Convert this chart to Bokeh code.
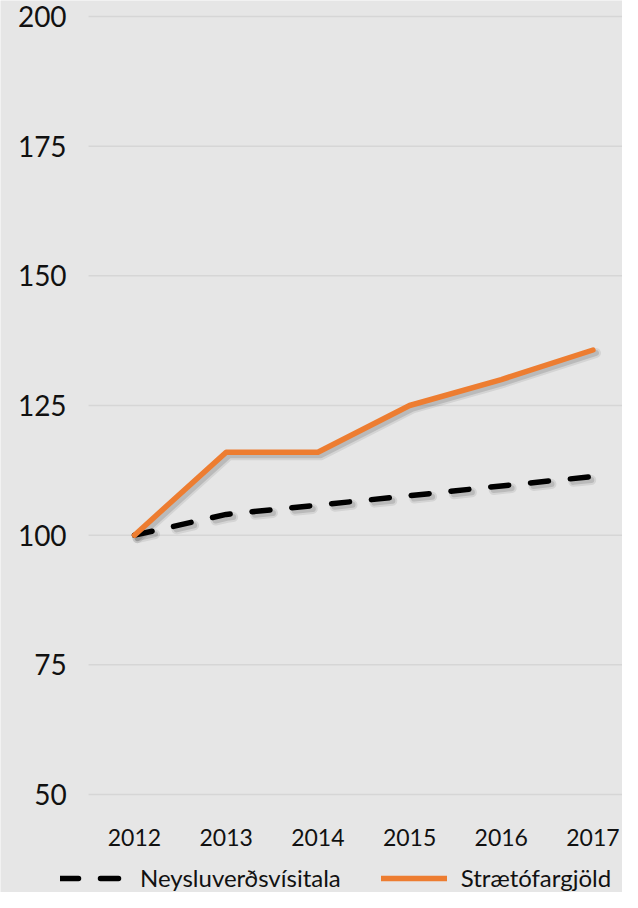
from bokeh.plotting import figure
from bokeh.models import Range1d, FixedTicker, Legend, LegendItem, LinearAxis
from bokeh.embed import file_html
from bokeh.resources import INLINE

years = [2012, 2013, 2014, 2015, 2016, 2017]
neysluverdsvisitala = [100, 104, 105.8, 107.6, 109.5, 111.3]
straetofargjold = [100, 116, 116, 125, 130, 135.7]
y_ticks = [50, 75, 100, 125, 150, 175, 200]
labels = ["Neysluverðsvísitala", "Strætófargjöld"]

BG = "#e6e6e6"
FONT = "Lato"
ORANGE = "#ED7D31"
DASH = "18 22"
W, H = 622, 892
X0, X1 = 2010.539, 2017.322
Y0, Y1 = 31.105, 203.085
GRID_X0 = 2011.5

p = figure(width=W, height=H, output_backend="svg", toolbar_location=None,
           x_range=Range1d(X0, X1), y_range=Range1d(Y0, Y1),
           x_axis_type=None, y_axis_type=None,
           min_border_left=0, min_border_right=0, min_border_top=0,
           min_border_bottom=0)
p.background_fill_color = BG
p.border_fill_color = BG
p.outline_line_color = None
p.grid.grid_line_color = None

# horizontal gridlines starting at the plot-area edge
p.segment(x0=GRID_X0, y0=y_ticks, x1=X1, y1=y_ticks,
          line_color="#d6d6d6", line_width=1.5)

yax = LinearAxis(ticker=FixedTicker(ticks=y_ticks), fixed_location=GRID_X0)
xax = LinearAxis(ticker=FixedTicker(ticks=years), fixed_location=y_ticks[0])
for ax in (xax, yax):
    ax.axis_line_color = None
    ax.major_tick_line_color = None
    ax.minor_tick_line_color = None
    ax.major_tick_out = 0
    ax.major_tick_in = 0
    ax.major_label_text_font = FONT
    ax.major_label_text_color = "#111111"
yax.major_label_text_font_size = "28px"
yax.major_label_standoff = 22
xax.major_label_text_font_size = "23px"
xax.major_label_standoff = 35
p.add_layout(yax, "left")
p.add_layout(xax, "below")

# shadow offset (3px down-right) in data units
dx = 3 * (X1 - X0) / W
dy = 3 * (Y1 - Y0) / H
sx = [x + dx for x in years]
sy_o = [y - dy for y in straetofargjold]
sy_b = [y - dy for y in neysluverdsvisitala]

p.line(sx, sy_o, line_color="black", line_alpha=0.08, line_width=10, line_cap="round", line_join="round")
p.line(sx, sy_o, line_color="black", line_alpha=0.12, line_width=6, line_cap="round", line_join="round")
p.line(sx, sy_b, line_color="black", line_alpha=0.08, line_width=10, line_dash=DASH, line_cap="round")
p.line(sx, sy_b, line_color="black", line_alpha=0.12, line_width=6, line_dash=DASH, line_cap="round")

r_b = p.line(years, neysluverdsvisitala, line_color="black", line_width=5.5,
             line_dash=DASH, line_cap="round")
r_o = p.line(years, straetofargjold, line_color=ORANGE, line_width=5.5,
             line_cap="round", line_join="round")

legend = Legend(items=[LegendItem(label=labels[0], renderers=[r_b]),
                       LegendItem(label=labels[1], renderers=[r_o])],
                orientation="horizontal", location=(60, 0),
                background_fill_alpha=0, border_line_alpha=0, padding=0, margin=0,
                spacing=40, glyph_width=66, glyph_height=20, label_standoff=14,
                label_text_font=FONT, label_text_font_size="24px",
                label_text_color="#111111")
p.add_layout(legend)

open("out.html", "w").write(file_html(p, INLINE))
